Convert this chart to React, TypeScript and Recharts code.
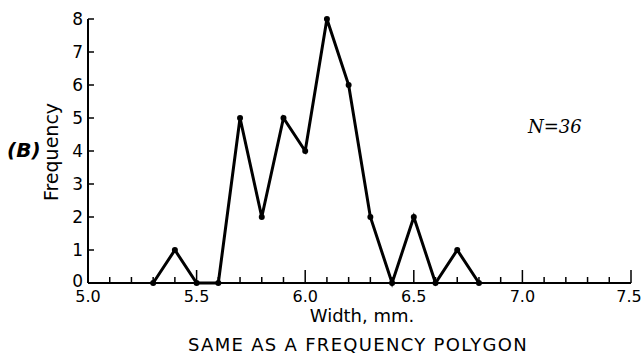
import React from "react";
import { LineChart, Line, XAxis, YAxis, Label } from "recharts";

// class midpoints (mm) and their frequencies, N = 36
const widths = [5.3, 5.4, 5.5, 5.6, 5.7, 5.8, 5.9, 6.0, 6.1, 6.2, 6.3, 6.4, 6.5, 6.6, 6.7, 6.8];
const frequencies = [0, 1, 0, 0, 5, 2, 5, 4, 8, 6, 2, 0, 2, 0, 1, 0];

const xTicks = [
  5.0, 5.1, 5.2, 5.3, 5.4, 5.5, 5.6, 5.7, 5.8, 5.9, 6.0, 6.1, 6.2,
  6.3, 6.4, 6.5, 6.6, 6.7, 6.8, 6.9, 7.0, 7.1, 7.2, 7.3, 7.4, 7.5,
];
const yTicks = [0, 1, 2, 3, 4, 5, 6, 7, 8];

const data = widths.map((w, i) => ({ width: w, freq: frequencies[i] }));

const FONT = "'DejaVu Sans', sans-serif";

const isMajor = (v: number) => Math.abs(v * 2 - Math.round(v * 2)) < 1e-6;

const XTick = ({ x, y, payload }: any) => {
  const v = payload.value as number;
  const major = isMajor(v);
  // keep the last label inside the picture
  const lx = Math.min(x, 629);
  return (
    <g>
      <line x1={x} x2={x} y1={y} y2={y - (major ? 13 : 6)} stroke="#000" strokeWidth={1.5} />
      {major && (
        <text x={lx} y={y + 19} textAnchor="middle" fontSize={16} fontFamily={FONT} fill="#000">
          {v.toFixed(1)}
        </text>
      )}
    </g>
  );
};

const YTick = ({ x, y, payload }: any) => (
  <g>
    <line x1={x} x2={x + 6} y1={y} y2={y} stroke="#000" strokeWidth={1.5} />
    <text x={x - 5} y={y + (payload.value === 0 ? 4 : 6)} textAnchor="end" fontSize={17} fontFamily={FONT} fill="#000">
      {payload.value}
    </text>
  </g>
);

export default function App() {
  return (
    <div style={{ position: "absolute", left: 0, top: 0, width: 641, height: 356, background: "#fff" }}>
      <LineChart
        width={641}
        height={356}
        data={data}
        margin={{ top: 19, right: 10, left: 28, bottom: 43 }}
      >
        <XAxis
          dataKey="width"
          type="number"
          domain={[5, 7.5]}
          ticks={xTicks}
          interval={0}
          tickSize={0}
          tickMargin={0}
          tickLine={false}
          tick={<XTick />}
          axisLine={{ stroke: "#000", strokeWidth: 2 }}
          height={30}
        >
          <Label
            content={() => (
              <text x={362} y={322} textAnchor="middle" fontSize={18} fontFamily={FONT} fill="#000">
                Width, mm.
              </text>
            )}
          />
        </XAxis>
        <YAxis
          type="number"
          domain={[0, 8]}
          ticks={yTicks}
          interval={0}
          tickSize={0}
          tickMargin={0}
          tickLine={false}
          tick={<YTick />}
          axisLine={{ stroke: "#000", strokeWidth: 2 }}
          width={60}
        >
          <Label
            content={() => (
              <text
                x={58}
                y={152}
                transform="rotate(-90 58 152)"
                textAnchor="middle"
                fontSize={19}
                fontFamily={FONT}
                fill="#000"
              >
                Frequency
              </text>
            )}
          />
        </YAxis>
        <Line
          type="linear"
          dataKey="freq"
          stroke="#000"
          strokeWidth={3}
          dot={{ r: 3, fill: "#000", stroke: "#000", strokeWidth: 0 }}
          isAnimationActive={false}
        />
      </LineChart>
      <div
        style={{
          position: "absolute",
          left: 7,
          top: 138,
          fontFamily: FONT,
          fontSize: 20,
          fontWeight: "bold",
          fontStyle: "italic",
        }}
      >
        (B)
      </div>
      <div
        style={{
          position: "absolute",
          left: 528,
          top: 116,
          fontFamily: "'DejaVu Serif', serif",
          fontSize: 18,
          fontStyle: "italic",
        }}
      >
        N=36
      </div>
      <div
        style={{
          position: "absolute",
          left: 188,
          top: 335,
          whiteSpace: "nowrap",
          fontFamily: FONT,
          fontSize: 18,
          letterSpacing: 1.3,
          lineHeight: "20px",
        }}
      >
        SAME AS A FREQUENCY POLYGON
      </div>
    </div>
  );
}
